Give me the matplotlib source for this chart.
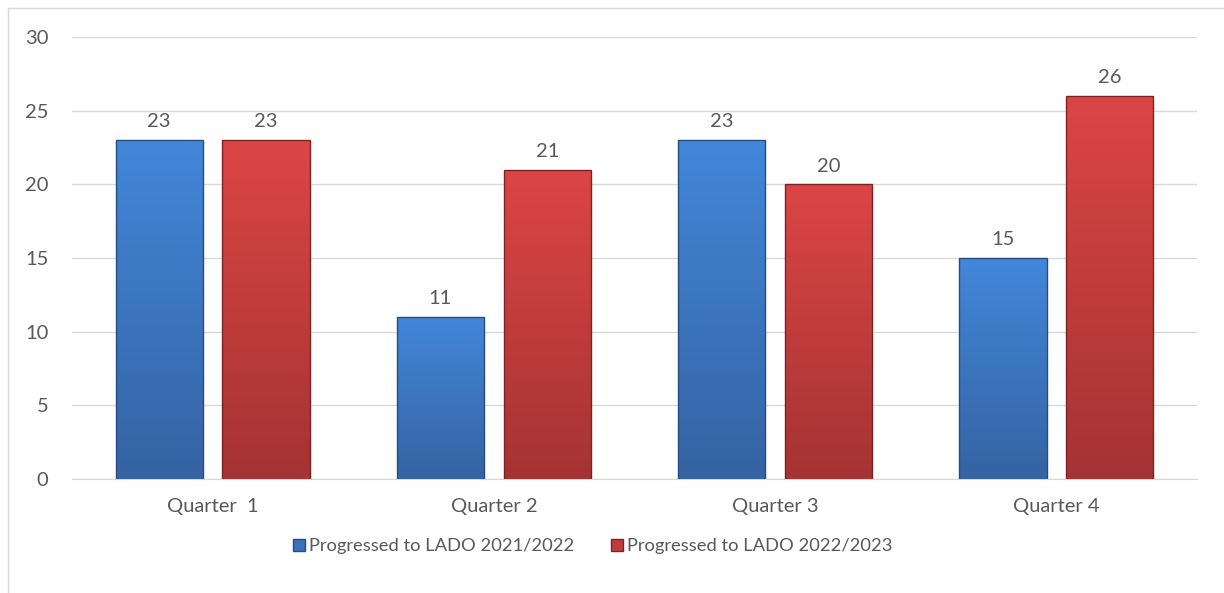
import numpy as np
import matplotlib.pyplot as plt
from matplotlib.lines import Line2D
from matplotlib.colors import LinearSegmentedColormap

# Daten
quarters = ["Quarter  1", "Quarter 2", "Quarter 3", "Quarter 4"]
lado_2122 = [23, 11, 23, 15]
lado_2223 = [23, 21, 20, 26]
series_names = ["Progressed to LADO 2021/2022", "Progressed to LADO 2022/2023"]

plt.rcParams['font.family'] = ['Lato', 'DejaVu Sans']
txt = "#595959"
fs = 14.5

fig = plt.figure(figsize=(12.24, 5.93), dpi=100)
ax = fig.add_axes([72 / 1224, 114 / 593, 1125 / 1224, 442 / 593])

x = np.arange(len(quarters))
w = 0.31
off = 0.19

# Farbverlauf von oben nach unten
def gradient_bar(bars, top, bottom, edge):
    cmap = LinearSegmentedColormap.from_list("g", [bottom, top])
    for b in bars:
        x0, y0 = b.get_x(), b.get_y()
        bw, bh = b.get_width(), b.get_height()
        grad = np.linspace(0, 1, 100).reshape(-1, 1)
        img = ax.imshow(grad, extent=[x0, x0 + bw, y0, y0 + bh], origin="lower",
                        cmap=cmap, aspect="auto", zorder=2)
        img.set_clip_path(b)
        b.set_facecolor("none")
        b.set_edgecolor(edge)
        b.set_linewidth(1.0)
        b.set_zorder(3)

b1 = ax.bar(x - off, lado_2122, w)
b2 = ax.bar(x + off, lado_2223, w)
gradient_bar(b1, "#4287d9", "#3563a3", "#284c7e")
gradient_bar(b2, "#dc4545", "#a53333", "#7a2424")

for bars, vals in ((b1, lado_2122), (b2, lado_2223)):
    for b, v in zip(bars, vals):
        ax.annotate(str(v), (b.get_x() + b.get_width() / 2, v), xytext=(0, 7),
                    textcoords="offset points", ha="center", va="bottom",
                    fontsize=fs, color=txt)

ax.set_xlim(-0.5, len(quarters) - 0.5)
ax.set_ylim(0, 30)
ax.set_yticks(range(0, 31, 5))
ax.set_xticks(x)
ax.set_xticklabels(quarters)
ax.grid(axis="y", color="#d9d9d9", linewidth=1)
ax.set_axisbelow(True)
for s in ["top", "right", "left"]:
    ax.spines[s].set_visible(False)
ax.spines["bottom"].set_color("#d9d9d9")
ax.tick_params(length=0, labelsize=fs, colors=txt)
ax.tick_params(axis="y", pad=17)
ax.tick_params(axis="x", pad=14)

handles = [Line2D([], [], marker="s", linestyle="none", markersize=9,
                  markerfacecolor="#3a70bd", markeredgecolor="#284c7e"),
           Line2D([], [], marker="s", linestyle="none", markersize=9,
                  markerfacecolor="#c03c3c", markeredgecolor="#7a2424")]
leg = fig.legend(handles, series_names, loc="center", bbox_to_anchor=(591 / 1224, 1 - 546 / 593),
                 ncol=2, frameon=False, fontsize=13.2, handletextpad=0.05, columnspacing=1.8,
                 handlelength=1)
for t in leg.get_texts():
    t.set_color(txt)

# Rahmen links und oben
fig.add_artist(Line2D([8 / 1224, 8 / 1224], [0, 1 - 8 / 593], color="#d9d9d9", lw=1,
                      transform=fig.transFigure))
fig.add_artist(Line2D([8 / 1224, 1], [1 - 8 / 593, 1 - 8 / 593], color="#d9d9d9", lw=1,
                      transform=fig.transFigure))

fig.savefig("out.png", dpi=100)
